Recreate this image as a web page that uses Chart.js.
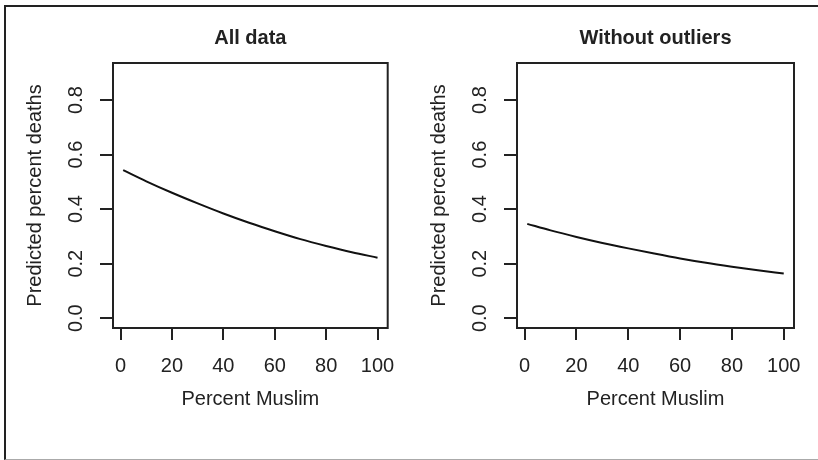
<!DOCTYPE html>
<html>
<head>
<meta charset="utf-8">
<script src="https://cdn.jsdelivr.net/npm/chart.js@4/dist/chart.umd.min.js"></script>
<style>
  html, body { margin: 0; padding: 0; background: #fff; }
  #page { position: relative; width: 818px; height: 460px; overflow: hidden; }
  #frame {
    position: absolute; left: 4px; top: 5px; width: 814px; height: 452px;
    border-top: 2px solid #222; border-left: 2px solid #222; border-bottom: 1px solid #aaa;
  }
  .panel { position: absolute; top: 0; height: 460px; }
</style>
</head>
<body>
<div id="page">
  <div id="frame"></div>
  <div class="panel" style="left:0px;width:409px"><canvas id="left"></canvas></div>
  <div class="panel" style="left:404px;width:414px"><canvas id="right"></canvas></div>
</div>
<script>
// ── data ──
const percentMuslim = [1, 10, 20, 30, 40, 50, 60, 70, 80, 90, 100];
const deathsAll     = [0.543, 0.502, 0.460, 0.421, 0.384, 0.350, 0.319, 0.290, 0.265, 0.242, 0.222];
const deathsTrimmed = [0.346, 0.322, 0.298, 0.276, 0.256, 0.237, 0.219, 0.203, 0.189, 0.176, 0.164];

const xTicks = [0, 20, 40, 60, 80, 100];
const yTicks = [0, 0.2, 0.4, 0.6, 0.8];
const yTickLabels = ["0.0", "0.2", "0.4", "0.6", "0.8"];

const panelTitles = ["All data", "Without outliers"];
const xTitle = "Percent Muslim";
const yTitle = "Predicted percent deaths";

// R-style axis ranges (4% extension)
const X_MIN = -2.96, X_MAX = 103.96;
const Y_MIN = -0.036, Y_MAX = 0.936;

const INK = "#222";
const FONT = "'Liberation Sans', Arial, sans-serif";

// box round the plot region + rotated y tick labels (like R's las=0)
const rFrame = {
  id: "rFrame",
  afterDraw(chart) {
    const { ctx, chartArea: a } = chart;
    ctx.save();
    ctx.strokeStyle = INK;
    ctx.lineWidth = 2;
    ctx.strokeRect(a.left, a.top, a.right - a.left, a.bottom - a.top);

    const ys = chart.scales.y;
    ctx.fillStyle = INK;
    ctx.font = "20px " + FONT;
    ctx.textAlign = "center";
    ctx.textBaseline = "alphabetic";
    yTicks.forEach((v, i) => {
      ctx.save();
      ctx.translate(a.left - 31, ys.getPixelForValue(v));
      ctx.rotate(-Math.PI / 2);
      ctx.fillText(yTickLabels[i], 0, 0);
      ctx.restore();
    });
    ctx.restore();
  }
};

function makePanel(id, title, values, padRight) {
  const pts = percentMuslim.map((x, i) => ({ x: x, y: values[i] }));
  return new Chart(document.getElementById(id), {
    type: "line",
    data: { datasets: [{
      data: pts, borderColor: "#111", borderWidth: 2, pointRadius: 0,
      cubicInterpolationMode: "monotone", fill: false
    }]},
    options: {
      responsive: true, maintainAspectRatio: false, animation: false,
      layout: { padding: { left: 0, right: padRight, top: 0, bottom: 0 } },
      plugins: {
        legend: { display: false },
        tooltip: { enabled: false },
        title: {
          display: true, text: title, color: INK, fullSize: false,
          font: { family: FONT, size: 20, weight: "bold" },
          padding: { top: 26, bottom: 13 }
        }
      },
      scales: {
        x: {
          type: "linear", min: X_MIN, max: X_MAX,
          afterBuildTicks: s => { s.ticks = xTicks.map(v => ({ value: v })); },
          afterFit: s => { s.height = 132; },
          border: { display: false },
          grid: { drawOnChartArea: false, drawTicks: true, tickLength: 12, lineWidth: 2, color: INK },
          ticks: { color: INK, padding: 14, maxRotation: 0, font: { family: FONT, size: 20 } },
          title: { display: true, text: xTitle, color: INK, font: { family: FONT, size: 20 }, padding: { top: 0, bottom: 49 } }
        },
        y: {
          type: "linear", min: Y_MIN, max: Y_MAX,
          afterBuildTicks: s => { s.ticks = yTicks.map(v => ({ value: v })); },
          afterFit: s => { s.width = 113; },
          border: { display: false },
          grid: { drawOnChartArea: false, drawTicks: true, tickLength: 13, lineWidth: 2, color: INK },
          ticks: { color: "rgba(0,0,0,0)", font: { family: FONT, size: 20 } },
          title: { display: true, text: yTitle, color: INK, font: { family: FONT, size: 20 }, padding: { top: 23, bottom: 0 } }
        }
      }
    },
    plugins: [rFrame]
  });
}

makePanel("left", panelTitles[0], deathsAll, 20);
makePanel("right", panelTitles[1], deathsTrimmed, 24);
</script>
</body>
</html>
